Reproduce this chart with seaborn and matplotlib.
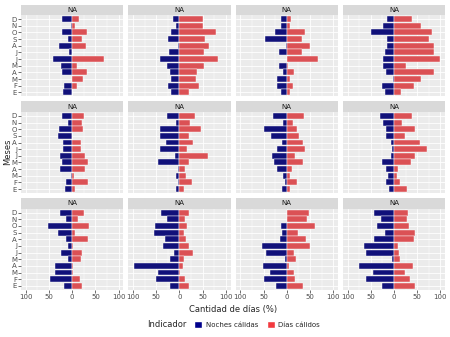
import numpy as np
import pandas as pd
import matplotlib.pyplot as plt
import seaborn as sns
from matplotlib.patches import Patch, Rectangle

# months from top (D) to bottom (E)
meses = ['D', 'N', 'O', 'S', 'A', 'J', 'J', 'M', 'A', 'M', 'F', 'E']
claves = ['dic', 'nov', 'oct', 'sep', 'ago', 'jul', 'jun', 'may', 'abr', 'mar', 'feb', 'ene']
paneles = ['NA'] * 12

# Noches cálidas (%), one row per panel, months D..E
noches = [
    [22, 3, 22, 9, 29, 6, 41, 25, 22, 0, 17, 19],
    [13, 7, 19, 24, 3, 22, 41, 26, 21, 19, 24, 19],
    [12, 12, 26, 47, 2, 16, 0, 16, 9, 20, 22, 12],
    [15, 23, 50, 16, 16, 20, 24, 23, 17, 3, 25, 20],
    [22, 9, 29, 30, 19, 19, 27, 22, 26, 2, 13, 15],
    [27, 7, 42, 42, 30, 43, 10, 46, 4, 8, 4, 7],
    [30, 7, 50, 34, 10, 20, 32, 28, 21, 7, 4, 11],
    [30, 23, 17, 17, 7, 4, 7, 26, 17, 13, 18, 10],
    [27, 14, 53, 30, 13, 9, 24, 9, 38, 37, 48, 17],
    [39, 27, 52, 54, 32, 36, 12, 20, 98, 46, 50, 20],
    [0, 0, 13, 10, 14, 54, 44, 4, 51, 36, 48, 23],
    [42, 27, 36, 19, 42, 64, 60, 5, 75, 45, 61, 25],
]
# Días cálidos (%)
dias = [
    [14, 7, 32, 22, 30, 0, 69, 11, 32, 23, 11, 0],
    [50, 51, 79, 54, 63, 53, 82, 53, 38, 36, 42, 20],
    [9, 7, 39, 33, 51, 32, 67, 3, 16, 6, 13, 6],
    [39, 58, 81, 75, 86, 86, 99, 26, 86, 59, 43, 16],
    [26, 21, 24, 0, 19, 19, 28, 34, 28, 3, 34, 7],
    [33, 23, 47, 20, 30, 16, 61, 20, 12, 13, 28, 9],
    [38, 13, 22, 26, 35, 39, 17, 35, 12, 8, 22, 8],
    [38, 17, 46, 23, 56, 72, 45, 36, 9, 6, 14, 27],
    [26, 13, 36, 7, 33, 2, 21, 19, 1, 2, 17, 22],
    [20, 11, 17, 10, 14, 20, 30, 9, 7, 2, 11, 20],
    [48, 43, 60, 25, 42, 51, 16, 20, 5, 16, 17, 36],
    [30, 28, 33, 45, 44, 9, 10, 14, 41, 23, 34, 46],
]

indicadores = ['Noches cálidas', 'Días cálidos']
colores = {'Noches cálidas': '#00008B', 'Días cálidos': '#F23A3F'}

filas = []
for p in range(len(paneles)):
    for i, c in enumerate(claves):
        filas.append((p, c, 'Noches cálidas', -noches[p][i]))
        filas.append((p, c, 'Días cálidos', dias[p][i]))
df = pd.DataFrame(filas, columns=['panel', 'mes', 'indicador', 'valor'])

sns.set_theme(style='darkgrid', rc={'axes.facecolor': '#EBEBEB'})
plt.rcParams['font.family'] = ['DejaVu Sans']

fig, axes = plt.subplots(3, 4, figsize=(4.5, 3.37), dpi=100)
fig.subplots_adjust(left=0.047, right=0.989, top=0.955, bottom=0.14, wspace=0.05, hspace=0.19)

for p, ax in enumerate(axes.flat):
    sub = df[df.panel == p]
    sns.barplot(data=sub, x='valor', y='mes', hue='indicador', order=claves,
                hue_order=indicadores, palette=colores, dodge=False, width=0.9,
                edgecolor='white', linewidth=0.3, errorbar=None, legend=False,
                orient='h', ax=ax)
    ax.set_xlim(-110, 110)
    ax.set_ylim(11.6, -0.6)
    ax.set_xticks([-100, -50, 0, 50, 100])
    ax.set_xticklabels(['100', '50', '0', '50', '100'])
    ax.set_xticks([-75, -25, 25, 75], minor=True)
    ax.set_yticks(range(12))
    ax.set_yticklabels(meses)
    ax.set_xlabel('')
    ax.set_ylabel('')
    ax.set_axisbelow(True)
    ax.grid(True, which='major', color='white', lw=0.6)
    ax.xaxis.grid(True, which='minor', color='white', lw=0.3)
    for s in ax.spines.values():
        s.set_visible(False)
    row, col = divmod(p, 4)
    ax.tick_params(axis='both', which='major', labelsize=5, colors='#333333',
                   labelcolor='#4D4D4D', length=2, width=0.5, pad=1)
    ax.tick_params(axis='x', which='minor', length=0)
    ax.tick_params(left=(col == 0), labelleft=(col == 0),
                   bottom=(row == 2), labelbottom=(row == 2))
    # strip
    h = 0.13
    ax.add_patch(Rectangle((0, 1), 1, h, transform=ax.transAxes, clip_on=False,
                           facecolor='#D9D9D9', edgecolor='none'))
    ax.text(0.5, 1 + h / 2, paneles[p], transform=ax.transAxes, ha='center',
            va='center', fontsize=5, color='#1A1A1A')

fig.text(0.518, 0.083, 'Cantidad de días (%)', ha='center', va='center', fontsize=6)
fig.text(0.016, 0.55, 'Meses', ha='center', va='center', rotation=90, fontsize=6)

fig.text(0.327, 0.036, 'Indicador', ha='left', va='center', fontsize=6)
handles = [Patch(facecolor=colores[k], edgecolor='white') for k in indicadores]
fig.legend(handles, indicadores, loc='center left', bbox_to_anchor=(0.425, 0.036),
           ncol=2, frameon=False, fontsize=5, handlelength=1.2, handleheight=1.2,
           columnspacing=1.2, handletextpad=0.5, borderaxespad=0)

fig.savefig('out.png', dpi=100)
